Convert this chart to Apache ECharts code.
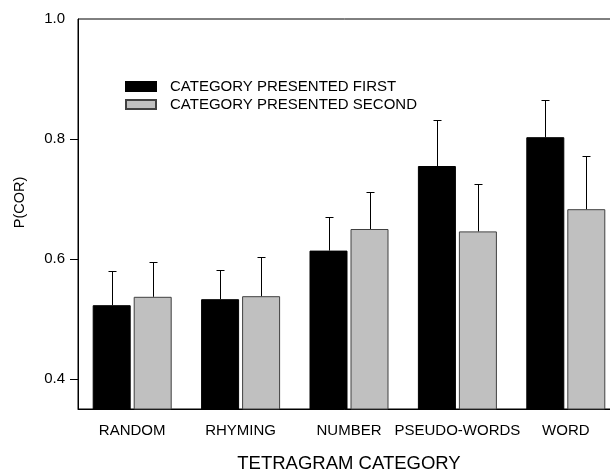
<!DOCTYPE html>
<html>
<head>
<meta charset="utf-8">
<script src="https://cdn.jsdelivr.net/npm/echarts@6/dist/echarts.min.js"></script>
<style>html,body{margin:0;padding:0;background:#fff;}#c{width:610px;height:470px;}</style>
</head>
<body>
<div id="c"></div>
<script>
var categories = ['RANDOM', 'RHYMING', 'NUMBER', 'PSEUDO-WORDS', 'WORD'];
var seriesNames = ['CATEGORY PRESENTED FIRST', 'CATEGORY PRESENTED SECOND'];
var firstValues = [0.523, 0.533, 0.614, 0.755, 0.803];
var secondValues = [0.537, 0.538, 0.650, 0.646, 0.683];
var firstErr = [0.057, 0.049, 0.056, 0.077, 0.062];
var secondErr = [0.058, 0.065, 0.062, 0.079, 0.089];
var yLabels = [0.4, 0.6, 0.8, 1.0];
var yTicks = [0.4, 0.6, 0.8];

var FONT = 'Liberation Sans, Arial, sans-serif';
var BAR_W = 38, GAP = 3;

function errSeries(values, errs, offset) {
  return {
    type: 'custom',
    silent: true,
    z: 5,
    data: values.map(function (v, i) { return [i, v, errs[i]]; }),
    renderItem: function (params, api) {
      var i = api.value(0), v = api.value(1), e = api.value(2);
      var p0 = api.coord([i, v]);
      var p1 = api.coord([i, v + e]);
      var x = Math.round(p0[0] + offset) + 0.5;
      var yt = Math.round(p1[1]) + 0.5;
      return {
        type: 'group',
        children: [
          { type: 'line', shape: { x1: x, y1: p0[1], x2: x, y2: yt }, style: { stroke: '#000', lineWidth: 1 } },
          { type: 'line', shape: { x1: x - 4, y1: yt, x2: x + 4, y2: yt }, style: { stroke: '#000', lineWidth: 1 } }
        ]
      };
    }
  };
}

var chart = echarts.init(document.getElementById('c'), null, { renderer: 'canvas' });
chart.setOption({
  animation: false,
  backgroundColor: '#fff',
  textStyle: { fontFamily: FONT },
  grid: { left: 78, top: 19, width: 542, height: 390, outerBoundsMode: 'none', containLabel: false,
    show: true, borderColor: '#000', borderWidth: 1, backgroundColor: 'transparent' },
  legend: {
    orient: 'vertical',
    left: 120, top: 74,
    icon: 'rect',
    itemWidth: 30, itemHeight: 9, itemGap: 3,
    selectedMode: false,
    textStyle: { fontSize: 15, color: '#000', fontFamily: FONT, lineHeight: 15, padding: [0, 0, 0, 9] },
    data: seriesNames
  },
  xAxis: {
    type: 'category',
    data: categories,
    name: 'TETRAGRAM CATEGORY',
    nameLocation: 'middle',
    nameGap: 45,
    nameTextStyle: { fontSize: 18.5, color: '#000', fontFamily: FONT },
    axisLine: { lineStyle: { color: '#000', width: 1 } },
    axisTick: { alignWithLabel: true, length: 5, lineStyle: { color: '#000' } },
    axisLabel: { color: '#000', fontSize: 15, margin: 14, fontFamily: FONT, interval: 0 },
    splitLine: { show: false }
  },
  yAxis: {
    type: 'value',
    min: 0.35, max: 1.0,
    axisLine: { show: true, lineStyle: { color: '#000', width: 1 } },
    axisTick: { show: true, length: 8, customValues: yTicks, lineStyle: { color: '#000' } },
    axisLabel: { color: '#000', fontSize: 15, margin: 13, fontFamily: FONT, customValues: yLabels,
      formatter: function (v) { return v.toFixed(1); } },
    splitLine: { show: false }
  },
  graphic: [{
    type: 'text', x: 20, y: 202.5, rotation: Math.PI / 2,
    style: { text: 'P(COR)', fontSize: 14.5, fontFamily: FONT, fill: '#000', align: 'center', verticalAlign: 'middle' }
  }],
  series: [
    { name: seriesNames[0], type: 'bar', data: firstValues, barWidth: BAR_W, barGap: (GAP / BAR_W * 100) + '%',
      itemStyle: { color: '#000', borderColor: '#000', borderWidth: 1 } },
    { name: seriesNames[1], type: 'bar', data: secondValues, barWidth: BAR_W,
      itemStyle: { color: '#c0c0c0', borderColor: '#404040', borderWidth: 1 } },
    errSeries(firstValues, firstErr, -(BAR_W + GAP) / 2),
    errSeries(secondValues, secondErr, (BAR_W + GAP) / 2)
  ]
});
</script>
</body>
</html>
